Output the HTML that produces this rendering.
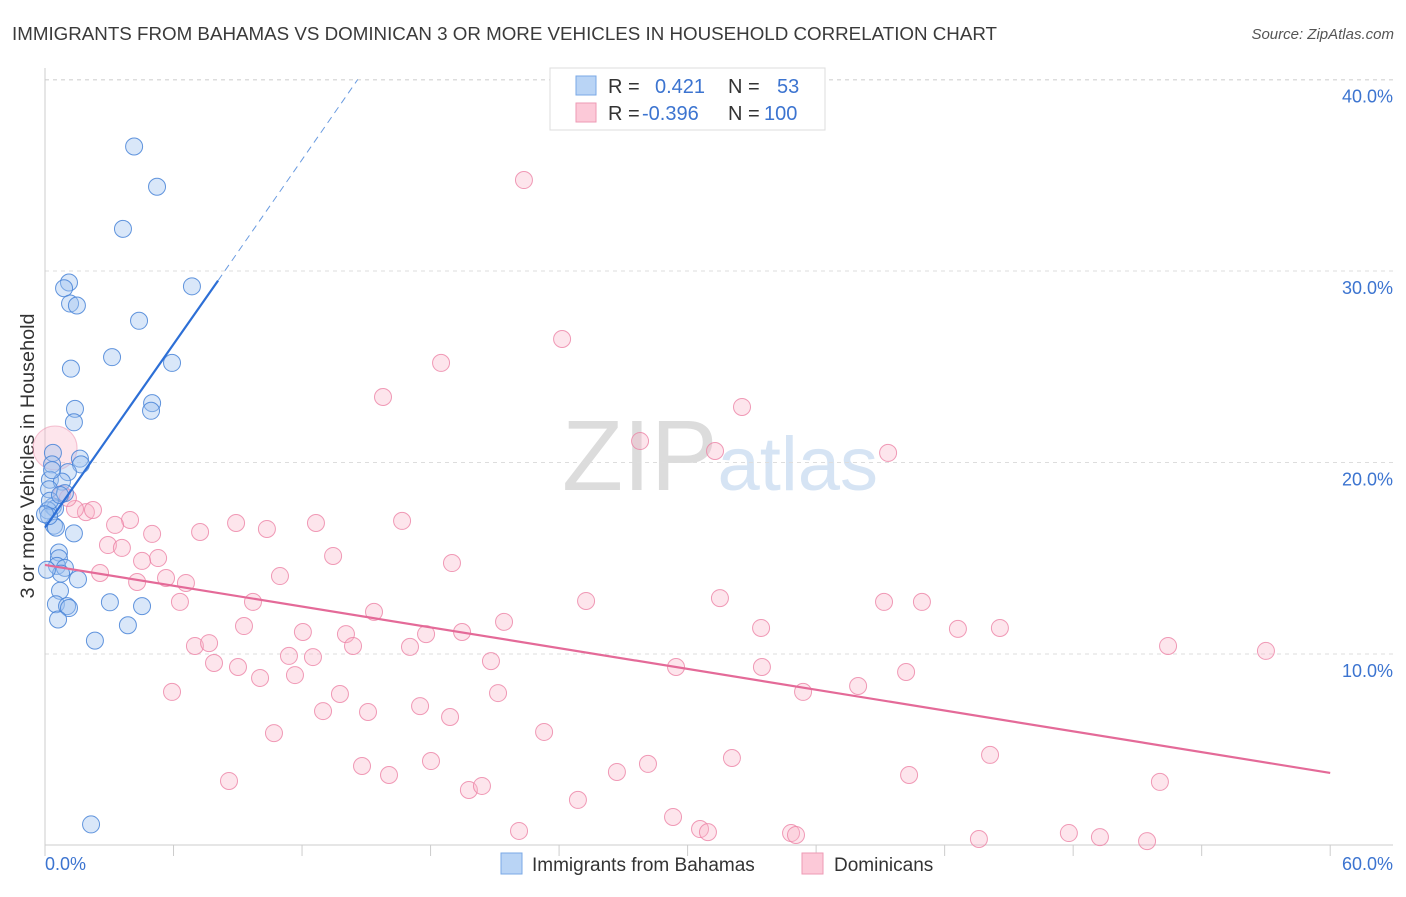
<!DOCTYPE html>
<html><head><meta charset="utf-8"><style>
body{margin:0;background:#fff;font-family:"Liberation Sans",sans-serif;}
svg text{font-family:"Liberation Sans",sans-serif;}
</style></head><body>
<svg id="chart" width="1406" height="892">
<text x="12" y="40" font-size="18" fill="#3a3a3a" textLength="985" lengthAdjust="spacingAndGlyphs">IMMIGRANTS FROM BAHAMAS VS DOMINICAN 3 OR MORE VEHICLES IN HOUSEHOLD CORRELATION CHART</text>
<text x="1394" y="39" font-size="15" fill="#555" font-style="italic" text-anchor="end">Source: ZipAtlas.com</text>
<text x="720" y="490" font-size="100" fill="#e4e4e4" text-anchor="middle" font-family="Liberation Serif"><tspan fill="#dcdcdc">ZIP</tspan><tspan fill="#d6e4f4" font-family="Liberation Sans" font-size="76">atlas</tspan></text>
<text transform="translate(34,456) rotate(-90)" font-size="19" fill="#333" text-anchor="middle" textLength="285" lengthAdjust="spacingAndGlyphs">3 or more Vehicles in Household</text>
<g id="grid"></g><g id="axes"></g><g id="pts"></g><g id="trend"></g>
<g>
<rect x="550" y="68" width="275" height="62" fill="#fff" stroke="#ddd"/>
<rect x="576" y="76" width="20" height="19" fill="#b9d4f5" stroke="#7aa8e6"/>
<rect x="576" y="103" width="20" height="19" fill="#fcc9d8" stroke="#ee9ab4"/>
<text x="608" y="93" font-size="20" fill="#333">R = <tspan x="655" fill="#3c74d0">0.421</tspan><tspan x="728" fill="#333">N =</tspan><tspan x="777" fill="#3c74d0">53</tspan></text>
<text x="608" y="120" font-size="20" fill="#333">R = <tspan x="642" fill="#3c74d0">-0.396</tspan><tspan x="728" fill="#333">N =</tspan><tspan x="764" fill="#3c74d0">100</tspan></text>
</g>
<g>
<rect x="501" y="853" width="21" height="21" fill="#b9d4f5" stroke="#7aa8e6"/>
<text x="532" y="871" font-size="19" fill="#333">Immigrants from Bahamas</text>
<rect x="802" y="853" width="21" height="21" fill="#fcc9d8" stroke="#ee9ab4"/>
<text x="834" y="871" font-size="19" fill="#333">Dominicans</text>
</g>
</svg>
<script>
const yTicks=[10,20,30,40];
const yTickLabels=["10.0%","20.0%","30.0%","40.0%"];
const xTickLabels=["0.0%","60.0%"];
const blueX=[4.16,5.23,3.64,1.12,0.89,1.17,1.49,6.86,4.39,3.13,5.93,1.21,5.0,4.95,1.4,1.35,0.37,1.63,1.68,1.07,0.33,0.23,0.79,0.19,0.93,0.37,0.47,0.14,0.42,0.51,1.35,0.65,0.65,0.56,0.93,0.75,1.54,0.7,0.51,1.03,1.12,3.03,4.53,0.61,3.87,2.33,2.15,0.09,0.23,0.19,0,0.33,0.7];
const blueY=[36.5,34.4,32.2,29.4,29.1,28.3,28.2,29.2,27.4,25.5,25.2,24.9,23.1,22.7,22.8,22.1,20.5,20.2,19.9,19.5,19.9,19.1,19.0,18.6,18.4,17.7,17.6,17.5,16.7,16.6,16.3,15.3,15.0,14.6,14.5,14.2,13.9,13.3,12.6,12.5,12.4,12.7,12.5,11.8,11.5,10.7,1.1,14.4,18.0,17.2,17.3,19.6,18.3];
const pinkX=[22.36,24.14,18.49,15.78,32.54,27.78,31.28,39.36,16.67,12.65,8.92,10.36,3.97,3.27,5.0,7.24,1.91,1.4,2.24,1.07,0.79,2.94,3.59,5.28,4.53,13.45,19.0,2.57,10.97,4.3,5.65,6.58,6.3,9.71,15.36,21.43,25.26,31.51,39.17,40.94,9.29,12.04,14.05,17.79,19.47,33.43,42.62,44.58,52.43,57.0,7.0,7.66,14.38,17.04,11.39,12.51,7.89,9.01,20.82,29.46,33.47,10.04,11.67,40.2,5.93,13.77,21.15,35.39,37.96,12.98,17.51,15.08,18.91,10.69,23.3,8.59,14.8,16.06,18.02,28.15,26.7,32.07,40.34,44.12,52.05,19.79,20.4,24.88,29.32,22.13,30.58,30.95,34.83,35.06,43.6,47.8,49.25,51.45];
const pinkY=[34.75,26.45,25.2,23.42,22.9,21.12,20.6,20.5,16.95,16.84,16.84,16.53,17.0,16.74,16.27,16.37,17.41,17.57,17.52,18.15,18.36,15.69,15.54,15.01,14.86,15.12,14.75,14.23,14.07,13.76,13.97,13.71,12.72,12.72,12.2,11.68,12.77,12.92,12.72,12.72,11.46,11.15,11.04,11.04,11.15,11.36,11.31,11.36,10.42,10.16,10.42,10.57,10.42,10.37,9.9,9.84,9.53,9.32,9.63,9.32,9.32,8.75,8.9,9.06,8.02,7.91,7.96,8.02,8.33,7.02,7.28,6.97,6.71,5.87,5.93,3.37,4.15,3.68,4.41,4.26,3.84,4.57,3.68,4.73,3.32,2.9,3.11,2.38,1.49,0.76,0.86,0.7,0.65,0.55,0.34,0.65,0.44,0.23];
const blueTrend=[[0,16.6],[8.08,29.5],[14.6,40]];
const pinkTrend=[[0,14.65],[60,3.79]];
const NS="http://www.w3.org/2000/svg";
const sx=v=>45+v*21.42, sy=v=>845.5-v*19.15;
function mk(tag,attrs,parent){const e=document.createElementNS(NS,tag);for(const k in attrs)e.setAttribute(k,attrs[k]);document.getElementById(parent).appendChild(e);return e;}
yTicks.forEach((t,i)=>{
 const g=mk('line',{x1:45,x2:1393,y1:sy(t),y2:sy(t),stroke:'#ddd','stroke-dasharray':'4,4'},'grid');
 
 
 const l=mk('text',{x:1393,y:sy(t)+23,'font-size':18,fill:'#3c74d0','text-anchor':'end'},'grid');
 l.textContent=yTickLabels[i];
 
 
});
mk('line',{x1:45,x2:1393,y1:80,y2:80,stroke:'#ddd','stroke-dasharray':'4,4'},'grid');
mk('line',{x1:45,x2:45,y1:68,y2:845,stroke:'#ccc'},'axes');
mk('line',{x1:45,x2:1393,y1:845,y2:845,stroke:'#ccc'},'axes');
for(let i=0;i<=10;i++){const t=mk('line',{x1:sx(i*6),x2:sx(i*6),y1:845,y2:856,stroke:'#ccc'},'axes');
 
 }
[[0,'start',45],[60,'end',1393]].forEach((d,i)=>{const l=mk('text',{x:d[2],y:870,'font-size':18,fill:'#3c74d0','text-anchor':d[1]},'axes');l.textContent=xTickLabels[i];
 
 });
const big=mk('circle',{cx:sx(0.47),cy:sy(20.76),r:22,fill:'rgba(249,180,200,0.35)',stroke:'rgba(236,140,170,0.5)'},'pts');


pinkX.forEach((x,i)=>{const c=mk('circle',{cx:sx(x),cy:sy(pinkY[i]),r:8.5,fill:'rgba(249,180,200,0.35)',stroke:'rgba(236,130,165,0.8)','stroke-width':1},'pts');
 
 });
blueX.forEach((x,i)=>{const c=mk('circle',{cx:sx(x),cy:sy(blueY[i]),r:8.5,fill:'rgba(160,196,240,0.4)',stroke:'rgba(70,130,215,0.85)','stroke-width':1},'pts');
 
 });
const b1=mk('line',{x1:sx(blueTrend[0][0]),y1:sy(blueTrend[0][1]),x2:sx(blueTrend[1][0]),y2:sy(blueTrend[1][1]),stroke:'#2d6fd6','stroke-width':2.2},'trend');


const b2=mk('line',{x1:sx(blueTrend[1][0]),y1:sy(blueTrend[1][1]),x2:sx(blueTrend[2][0]),y2:sy(blueTrend[2][1]),stroke:'#6a9be0','stroke-width':1,'stroke-dasharray':'7,5'},'trend');


const p1=mk('line',{x1:sx(pinkTrend[0][0]),y1:sy(pinkTrend[0][1]),x2:sx(pinkTrend[1][0]),y2:sy(pinkTrend[1][1]),stroke:'#e46a98','stroke-width':2.2},'trend');


</script>
</body></html>
